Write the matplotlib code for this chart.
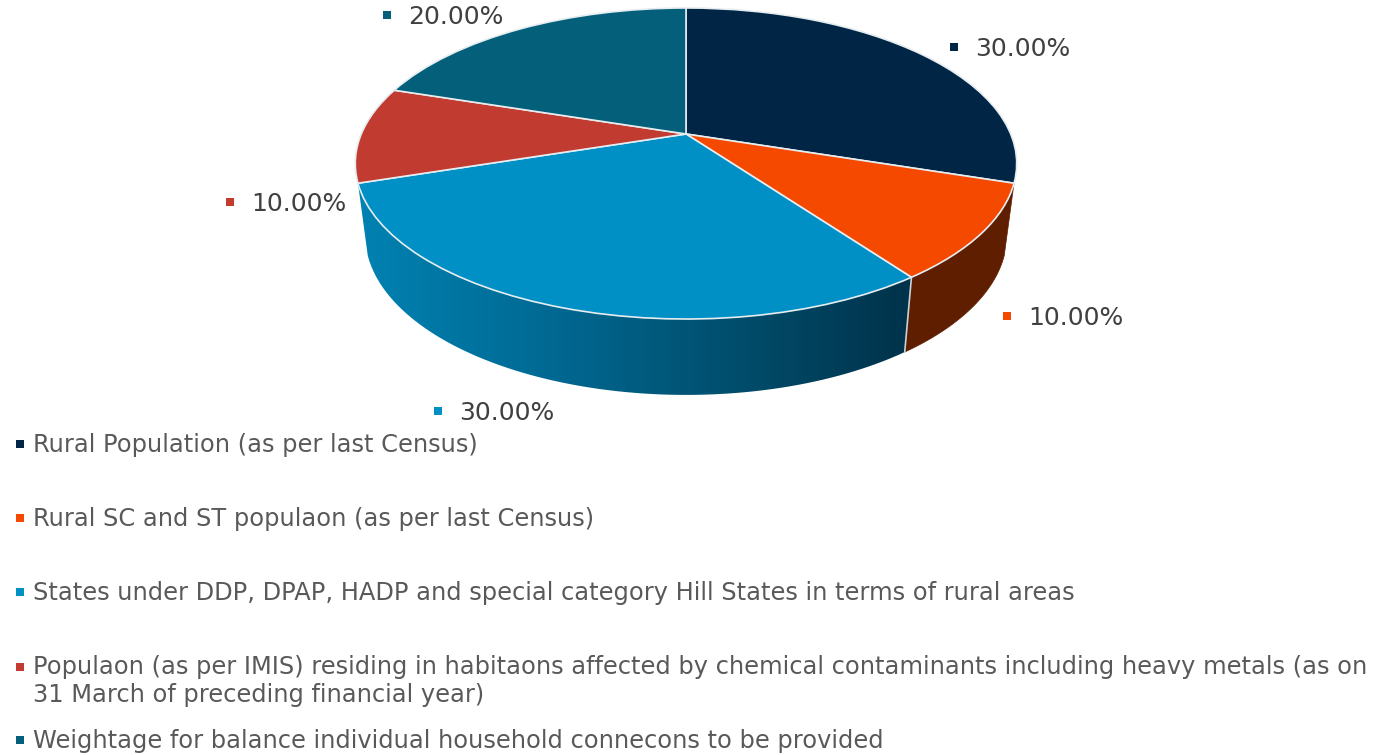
import numpy as np
import matplotlib
matplotlib.use("Agg")
import matplotlib.pyplot as plt
from matplotlib.colors import LinearSegmentedColormap
from matplotlib.patches import Polygon
from matplotlib.transforms import Transform

categories = [
    "Rural Population (as per last Census)",
    "Rural SC and ST populaon (as per last Census)",
    "States under DDP, DPAP, HADP and special category Hill States in terms of rural areas",
    "Populaon (as per IMIS) residing in habitaons affected by chemical contaminants including heavy metals (as on\n31 March of preceding financial year)",
    "Weightage for balance individual household connecons to be provided",
]
shares = [30, 10, 30, 10, 20]
colors = ["#002545", "#f54900", "#0090c6", "#c13b30", "#035f7a"]

label_pos = [(975, 49), (1028, 318), (459, 413), (251, 204), (408, 17)]
legend_y = [445, 519, 593, 668, 741]


class Tilt(Transform):
	# unit circle -> pixel position of a tilted disc, seen in perspective
	input_dims = 2
	output_dims = 2

	def __init__(self, sx, a, b, c=0.1897, cx=686):
		super().__init__()
		self.sx, self.a, self.b, self.c, self.cx = sx, a, b, c, cx

	def transform_non_affine(self, xy):
		xy = np.asarray(xy, dtype=float)
		d = self.c * xy[:, 1] + 1
		return np.column_stack([self.cx + self.sx * xy[:, 0] / d, (self.a * xy[:, 1] + self.b) / d])


top = Tilt(324.7, -124.5, 134)
bottom = Tilt(315, -115, 205)


def arc(disc, t0, t1):
	# t in degrees, clockwise from 12 o'clock
	t = np.radians(np.linspace(t0, t1, 80))
	return disc.transform_non_affine(np.column_stack([np.sin(t), np.cos(t)]))


fig = plt.figure(figsize=(13.75, 7.55), dpi=100)
ax = fig.add_axes([0, 0, 1, 1])

ends = np.cumsum(shares) / np.sum(shares) * 360
starts = ends - np.array(shares) / np.sum(shares) * 360

# side wall of the orange slice
wall = np.vstack([arc(top, starts[1], ends[1]), arc(bottom, ends[1], starts[1])])
ax.add_patch(Polygon(wall, closed=True, facecolor="#5f1e00", edgecolor="#5f1e00", lw=0.5, zorder=1))

# side wall of the blue slice, shaded left to right
wall = np.vstack([arc(top, starts[2], ends[2]), arc(bottom, ends[2], starts[2])])
clip = Polygon(wall, closed=True, transform=ax.transData, facecolor="none", edgecolor="none")
ax.add_patch(clip)
cmap = LinearSegmentedColormap.from_list("wall", ["#0082b2", "#006a94", "#004f6e", "#00324a"])
im = ax.imshow(np.linspace(0, 1, 256)[None, :], cmap=cmap, aspect="auto",
               extent=[wall[:, 0].min(), wall[:, 0].max(), wall[:, 1].max(), wall[:, 1].min()], zorder=1)
im.set_clip_path(clip)

wedges, _ = ax.pie(shares, colors=colors, startangle=90, counterclock=False,
                   wedgeprops={"edgecolor": "#e6edf0", "linewidth": 1.2})
for w in wedges:
	w.set_transform(top + ax.transData)
	w.set_zorder(3)

# seam between the two walls
seam = np.vstack([arc(top, ends[1], ends[1]), arc(bottom, ends[1], ends[1])])
ax.plot(seam[:, 0], seam[:, 1], color="#c9d3d6", lw=1.2, zorder=2)

for s, c, (x, y) in zip(shares, colors, label_pos):
	ax.plot(x - 21, y - 2, "s", color=c, ms=5.5, mew=0, zorder=4)
	ax.text(x, y, f"{s:.2f}%", fontsize=18, color="#404040", va="center", ha="left")

for name, c, y in zip(categories, colors, legend_y):
	ax.plot(20, y - 1, "s", color=c, ms=5.5, mew=0, zorder=4)
	if "\n" in name:
		# two line entry: first line sits on the marker
		ax.text(33, y - 13, name, fontsize=17.4, color="#595959", va="top", ha="left", linespacing=1.2)
	else:
		ax.text(33, y, name, fontsize=17.4, color="#595959", va="center", ha="left")

ax.set_aspect("auto")
ax.set_xlim(0, 1375)
ax.set_ylim(755, 0)
ax.axis("off")
plt.savefig("out.png", dpi=100)
